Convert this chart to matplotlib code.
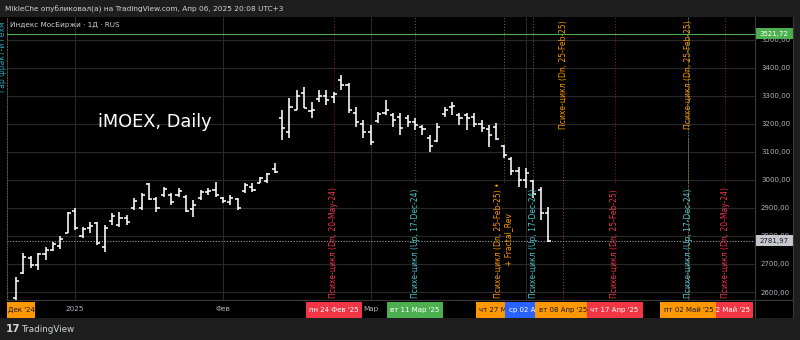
import matplotlib
matplotlib.use('Agg')
import matplotlib.pyplot as plt
from matplotlib.patches import Rectangle
from matplotlib.lines import Line2D
from matplotlib.transforms import blended_transform_factory

# дневные бары IMOEX (дек '24 - 04 апр '25)
opens = [2580, 2668, 2720, 2695, 2735, 2750, 2765, 2812, 2890, 2800,
         2830, 2845, 2760, 2855, 2840, 2865, 2900, 2900, 2985, 2930,
         2945, 2945, 2945, 2940, 2895, 2935, 2955, 2965, 2935, 2920,
         2930, 2960, 2975, 2990, 2995, 3040, 3220, 3170, 3250, 3310,
         3245, 3290, 3300, 3295, 3355, 3340, 3240, 3200, 3170, 3210,
         3240, 3230, 3225, 3220, 3205, 3190, 3150, 3140, 3235, 3260,
         3230, 3230, 3225, 3200, 3180, 3190, 3120, 3075, 3030, 3000,
         2995, 2965, 2880]
highs = [2653, 2739, 2730, 2740, 2762, 2778, 2800, 2885, 2899, 2831,
         2849, 2850, 2840, 2882, 2885, 2875, 2935, 2953, 2988, 2939,
         2974, 2953, 2970, 2946, 2928, 2964, 2970, 2992, 2939, 2946,
         2935, 2988, 2988, 3010, 3024, 3060, 3249, 3292, 3320, 3331,
         3277, 3320, 3320, 3313, 3374, 3345, 3260, 3213, 3195, 3242,
         3285, 3238, 3238, 3231, 3220, 3195, 3160, 3203, 3260, 3278,
         3238, 3238, 3238, 3213, 3195, 3203, 3124, 3081, 3046, 3042,
         3000, 2974, 2903]
lows = [2560, 2665, 2685, 2680, 2715, 2745, 2755, 2810, 2821, 2792,
        2810, 2767, 2743, 2840, 2832, 2840, 2893, 2892, 2928, 2885,
        2939, 2910, 2939, 2885, 2867, 2928, 2945, 2939, 2917, 2910,
        2892, 2953, 2956, 2988, 2988, 3024, 3142, 3150, 3249, 3256,
        3220, 3277, 3267, 3274, 3320, 3238, 3188, 3150, 3124, 3203,
        3231, 3188, 3160, 3188, 3178, 3160, 3099, 3135, 3224, 3231,
        3195, 3178, 3188, 3170, 3117, 3142, 3078, 3017, 2974, 2971,
        2935, 2857, 2778]
closes = [2640, 2725, 2695, 2735, 2750, 2770, 2790, 2880, 2828, 2825,
          2835, 2775, 2828, 2870, 2865, 2850, 2925, 2945, 2932, 2900,
          2968, 2920, 2960, 2890, 2910, 2955, 2962, 2945, 2925, 2935,
          2900, 2980, 2965, 3005, 3020, 3028, 3185, 3260, 3300, 3258,
          3250, 3300, 3285, 3305, 3340, 3250, 3205, 3170, 3135, 3235,
          3250, 3215, 3185, 3205, 3195, 3180, 3120, 3190, 3250, 3265,
          3220, 3220, 3200, 3185, 3160, 3145, 3090, 3030, 3000, 3025,
          2950, 2880, 2781.97]

last_price = 2781.97
max_price = 3521.72
price_ticks = [2600, 2700, 2800, 2900, 3000, 3100, 3200, 3300, 3400, 3500]

# начала месяцев (номер бара)
month_idx = [8, 28, 48, 69, 91]
month_labels = ['2025', 'Фев', 'Мар', 'Апр', 'Май']

RED = '#f23645'
CYAN = '#4fc3cf'
ORANGE = '#ff9800'
GREEN = '#4caf50'
BLUE = '#2962ff'

# вертикальные линии Психе-цикла
line_idx = [43, 54, 66, 70, 74, 81, 91, 91, 96]
line_color = [RED, CYAN, ORANGE, CYAN, ORANGE, RED, ORANGE, CYAN, RED]
line_top = [False, False, False, False, True, False, True, False, False]
line_text = ['Психе-цикл (Dn, 20-May-24)',
             'Психе-цикл (Up, 17-Dec-24)',
             'Психе-цикл (Dn, 25-Feb-25) •\n+ Fractal_Rev',
             'Психе-цикл (Up, 17-Dec-24)',
             'Психе-цикл (Dn, 25-Feb-25)',
             'Психе-цикл (Dn, 25-Feb-25)',
             'Психе-цикл (Dn, 25-Feb-25)',
             'Психе-цикл (Up, 17-Dec-24)',
             'Психе-цикл (Dn, 20-May-24)']

# подписи дат на шкале времени (порядок = порядок отрисовки)
box_idx = [43, 54, 66, 70, 74, 81, 96, 91]
box_text = ["пн 24 Фев '25", "вт 11 Мар '25", "чт 27 Мар '25", "ср 02 Апр '25",
            "вт 08 Апр '25", "чт 17 Апр '25", "пн 12 Май '25", "пт 02 Май '25"]
box_color = [RED, GREEN, ORANGE, BLUE, ORANGE, RED, RED, ORANGE]

W, H = 800, 340
PX = 7.39  # пикселей на бар

fig = plt.figure(figsize=(8, 3.4), dpi=100, facecolor='#1e1e1e')
fig.patches.append(Rectangle((0, 22 / H), 793 / W, 301 / H, transform=fig.transFigure,
                             fc='black', ec='none', zorder=-10))

ax = fig.add_axes([7 / W, 40 / H, 748 / W, 283 / H], facecolor='black')
ax.set_xlim((7 - 16) / PX, (755 - 16) / PX)
ax.set_ylim(2571.5, 3580.8)

idx = list(range(len(opens)))
ax.vlines(idx, lows, highs, color='white', lw=1.15, zorder=5)
ax.hlines(opens, [i - 0.42 for i in idx], idx, color='white', lw=1.15, zorder=5)
ax.hlines(closes, idx, [i + 0.42 for i in idx], color='white', lw=1.15, zorder=5)

# сетка
ax.set_axisbelow(True)
ax.set_yticks(price_ticks)
ax.set_yticklabels([f'{p:.2f}'.replace('.', ',') for p in price_ticks])
ax.set_xticks(month_idx)
ax.set_xticklabels(month_labels)
ax.grid(color='#292929', lw=0.8)
ax.yaxis.tick_right()
ax.tick_params(axis='y', length=0, pad=4.3, labelsize=5, labelcolor='#b2b5be')
ax.tick_params(axis='x', length=0, pad=4.6, labelsize=5.2, labelcolor='#b2b5be')
for s in ['top', 'right', 'bottom']:
    ax.spines[s].set_visible(False)
ax.spines['left'].set_color('#555555')
ax.spines['left'].set_linestyle((0, (1, 1.5)))
ax.spines['left'].set_linewidth(0.8)

# разделители панелей
fig.add_artist(Line2D([7 / W, 793 / W], [40 / H, 40 / H], color='#3a3a3a', lw=0.8))
fig.add_artist(Line2D([755 / W, 755 / W], [22 / H, 323 / H], color='#3a3a3a', lw=0.8))
fig.add_artist(Line2D([793 / W, 793 / W], [22 / H, 323 / H], color='#3a3a3a', lw=0.8))

# горизонтальные уровни
ax.axhline(max_price, color=GREEN, lw=0.8, zorder=3)
ax.axhline(last_price, color='#9a9da6', lw=0.8, ls=(0, (1, 1.5)), zorder=3)

ty = blended_transform_factory(ax.transAxes, ax.transData)
bh = 11 / 0.2804
for val, fc, tc in [(max_price, GREEN, 'white'), (last_price, '#c6c8ce', '#131722')]:
    ax.add_patch(Rectangle((1.0, val - bh / 2), 38 / 748, bh, transform=ty,
                           fc=fc, ec='none', clip_on=False, zorder=20))
    ax.text(1.0 + 19 / 748, val, f'{val:.2f}'.replace('.', ','), transform=ty,
            ha='center', va='center', fontsize=5, color=tc, clip_on=False, zorder=21)

# вертикальные линии с подписями
tx = blended_transform_factory(ax.transData, ax.transAxes)
for i, c, top, t in zip(line_idx, line_color, line_top, line_text):
    if top:
        ax.axvline(i, 0, 0.576, color=c, lw=0.7, alpha=0.6, ls=(0, (1, 2)), zorder=2)
        ax.text(i, 0.99, t, transform=tx, rotation=90, ha='center', va='top',
                fontsize=5.5, color=c, zorder=6)
    else:
        ax.axvline(i, 0.417, 1, color=c, lw=0.7, alpha=0.6, ls=(0, (1, 2)), zorder=2)
        ax.text(i, 0.008, t, transform=tx, rotation=90, ha='center', va='bottom',
                fontsize=5.5, color=c, zorder=6)

# цветные метки дат на шкале времени
bw = 56 / PX
z = 10
ax.add_patch(Rectangle((0, -18 / 283), 28 / 748, 16 / 283, transform=ax.transAxes,
                       fc=ORANGE, ec='none', clip_on=False, zorder=z))
ax.text(14 / 748, -10 / 283, "Дек '24", transform=ax.transAxes, ha='center', va='center',
        fontsize=5, color='#131722', clip_on=False, zorder=z + 0.05)
for i, t, c in zip(box_idx, box_text, box_color):
    z += 0.1
    ax.add_patch(Rectangle((i - bw / 2, -18 / 283), bw, 16 / 283, transform=tx,
                           fc=c, ec='none', clip_on=False, zorder=z))
    ax.text(i, -10 / 283, t, transform=tx, ha='center', va='center', fontsize=5,
            color='#131722' if c == ORANGE else 'white', clip_on=False, zorder=z + 0.05)

# тексты
ax.text((155 - 7) / 748, (300 - 122) / 283, 'iMOEX, Daily', transform=ax.transAxes,
        ha='center', va='center', fontsize=12.8, color='white', zorder=6)
ax.text(3 / 748, (300 - 25) / 283, 'Индекс МосБиржи · 1Д · RUS', transform=ax.transAxes,
        ha='left', va='center', fontsize=5.2, color='#d1d4dc', zorder=6)
fig.text(5 / W, 1 - 9 / H, 'MikleChe опубликовал(а) на TradingView.com, Апр 06, 2025 20:08 UTC+3',
         ha='left', va='center', fontsize=5.3, color='#d1d4dc')
fig.text(3 / W, 1 - 57 / H, 'гар фракт-и гехм', rotation=90, ha='center', va='center',
         fontsize=5.5, color='#26a6b8')
fig.text(6 / W, 1 - 329 / H, '17', ha='left', va='center', fontsize=7.5,
         fontweight='bold', color='#d1d4dc')
fig.text(21 / W, 1 - 329 / H, 'TradingView', ha='left', va='center', fontsize=6.3,
         color='#d1d4dc')

fig.savefig('out.png', dpi=100, facecolor=fig.get_facecolor())
